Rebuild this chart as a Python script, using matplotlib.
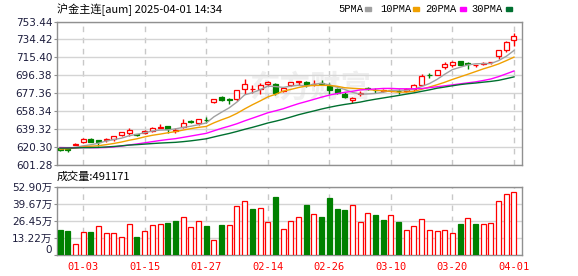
import numpy as np
import pandas as pd
import matplotlib
matplotlib.use('Agg')
import matplotlib.pyplot as plt

# trading days shown on the chart
dates = ['12-30', '12-31', '01-02', '01-03', '01-06', '01-07', '01-08', '01-09', '01-10', '01-13',
	'01-14', '01-15', '01-16', '01-17', '01-20', '01-21', '01-22', '01-23', '01-24', '01-27',
	'02-05', '02-06', '02-07', '02-10', '02-11', '02-12', '02-13', '02-14', '02-17', '02-18',
	'02-19', '02-20', '02-21', '02-24', '02-25', '02-26', '02-27', '02-28', '03-03', '03-04',
	'03-05', '03-06', '03-07', '03-10', '03-11', '03-12', '03-13', '03-14', '03-17', '03-18',
	'03-19', '03-20', '03-21', '03-24', '03-25', '03-26', '03-27', '03-28', '03-31', '04-01']

opens = [619.0, 618.7, 622.5, 625.7, 628.5, 627.5, 627.8, 628.5, 633.5, 634.9,
	634.0, 634.9, 637.7, 640.5, 642.3, 637.7, 641.2, 648.1, 645.8, 649.4,
	667.9, 673.2, 670.8, 670.8, 682.1, 681.8, 681.4, 687.0, 687.0, 679.3,
	685.6, 689.8, 689.1, 686.9, 688.3, 684.9, 681.4, 676.8, 670.1, 676.8,
	682.8, 681.1, 680.0, 680.3, 680.0, 679.8, 681.4, 686.4, 696.9, 696.9,
	705.4, 707.1, 711.3, 709.2, 707.3, 708.5, 710.2, 716.6, 722.9, 733.5]
highs = [620.6, 619.6, 624.5, 629.9, 629.6, 628.0, 630.3, 632.5, 636.7, 640.2,
	634.6, 638.8, 641.5, 644.7, 642.6, 640.9, 649.7, 649.1, 650.2, 652.1,
	671.5, 674.3, 672.6, 680.9, 692.7, 685.6, 688.5, 690.4, 688.5, 683.0,
	689.3, 690.4, 690.2, 690.9, 690.9, 688.5, 683.0, 678.5, 673.2, 679.6,
	684.2, 682.4, 681.7, 682.1, 681.4, 682.4, 686.7, 697.9, 699.0, 702.5,
	710.2, 711.3, 712.0, 710.2, 707.8, 710.9, 710.9, 723.7, 733.2, 741.3]
lows = [616.4, 615.1, 622.2, 624.6, 625.4, 621.5, 626.1, 626.7, 632.0, 631.7,
	632.2, 633.8, 636.7, 640.5, 635.2, 634.9, 640.5, 645.4, 644.1, 646.2,
	666.6, 669.0, 666.3, 669.0, 676.1, 677.9, 676.4, 684.9, 675.4, 678.7,
	685.1, 685.6, 684.5, 684.9, 686.7, 676.1, 676.1, 672.6, 666.6, 674.3,
	681.1, 677.5, 678.5, 678.5, 676.1, 678.7, 679.6, 685.8, 693.7, 696.2,
	703.3, 704.9, 707.1, 703.3, 704.9, 707.1, 708.5, 713.8, 720.8, 727.1]
closes = [617.6, 617.4, 624.0, 628.9, 625.7, 625.9, 629.1, 631.7, 636.3, 638.8,
	632.9, 637.7, 640.9, 641.2, 639.8, 638.4, 645.4, 647.0, 649.7, 648.6,
	671.1, 670.1, 670.3, 680.3, 686.7, 682.2, 685.6, 689.8, 677.9, 682.4,
	688.8, 690.4, 685.6, 687.5, 687.2, 680.6, 677.9, 673.7, 672.2, 677.4,
	682.1, 680.3, 680.5, 681.1, 679.3, 681.4, 685.6, 695.4, 696.3, 701.5,
	708.8, 710.2, 707.8, 708.5, 707.6, 709.9, 710.6, 723.3, 731.4, 738.4]

# closes before the visible window (estimated from where the MA lines start)
prior_closes = [616, 618, 621, 624, 620, 617, 615, 614, 616, 619,
	621, 623, 626, 628, 627, 624, 621, 618, 615, 612,
	613, 616, 617, 619, 620, 618, 619, 621, 620]

# volume in lots, and whether the bar is drawn as an up (red) bar
volumes = [194000, 186000, 83000, 178000, 178000, 222000, 170000, 170000, 139000, 238000,
	139000, 186000, 230000, 240000, 250000, 263000, 292000, 214000, 261000, 225000,
	116000, 232000, 232000, 377000, 416000, 356000, 364000, 256000, 449000, 201000,
	261000, 292000, 387000, 317000, 294000, 441000, 356000, 348000, 385000, 256000,
	325000, 310000, 271000, 307000, 256000, 191000, 222000, 276000, 191000, 183000,
	191000, 168000, 240000, 284000, 240000, 238000, 245000, 416000, 470000, 491171]
vol_up = [0, 0, 1, 1, 0, 1, 1, 1, 1, 1,
	0, 1, 1, 1, 0, 0, 1, 1, 1, 0,
	1, 0, 1, 1, 1, 0, 1, 1, 0, 1,
	1, 1, 0, 1, 0, 0, 0, 0, 1, 1,
	1, 0, 0, 1, 0, 1, 1, 1, 1, 1,
	1, 1, 0, 1, 0, 1, 1, 1, 1, 1]

price_ticks = [601.28, 620.30, 639.32, 658.34, 677.36, 696.38, 715.40, 734.42, 753.44]
vol_ticks = [0, 132200, 264500, 396700, 529000]
vol_tick_labels = ['0', '13.22万', '26.45万', '39.67万', '52.90万']
date_ticks = ['01-03', '01-15', '01-27', '02-14', '02-26', '03-10', '03-20', '04-01']

ma_periods = [5, 10, 20, 30]
ma_colors = ['#a0a0a0', '#f0a000', '#ff00ff', '#007030']

RED = '#ff0000'
GREEN = '#008000'
BORDER = '#909090'
LABEL = '#1c1c3c'


def style_axis(ax, xt):
	for s in ax.spines.values():
		s.set_color(BORDER)
		s.set_linewidth(1.0)
	ax.set_xticks(xt)
	ax.xaxis.grid(True, color='#c8c8c8', linestyle=(0, (4, 4)), linewidth=1.0)
	ax.yaxis.grid(True, color='#d4d4d4', linestyle='-', linewidth=1.0)
	ax.set_axisbelow(True)
	ax.tick_params(axis='y', length=2, width=0.8, color=BORDER, pad=1.5,
		labelsize=7.5, labelcolor=LABEL)
	ax.tick_params(axis='x', length=0)


def main():
	plt.rcParams['font.family'] = ['DejaVu Sans', 'Noto Sans CJK SC']
	fig = plt.figure(figsize=(5.78, 2.76), dpi=100)
	W, H = 578.0, 276.0
	ax = fig.add_axes([57 / W, 1 - 165 / H, 465 / W, 143.5 / H])
	axv = fig.add_axes([57 / W, 1 - 255 / H, 465 / W, 68.3 / H])

	idx = np.arange(len(dates))
	o = np.array(opens)
	c = np.array(closes)
	up = c >= o
	xt = [dates.index(d) for d in date_ticks]

	# candles
	col = np.where(up, RED, GREEN)
	ax.vlines(idx, lows, highs, colors=col, linewidth=1.0, zorder=2)
	ax.bar(idx, np.abs(c - o), bottom=np.minimum(o, c), width=0.65,
		color=np.where(up, 'white', GREEN), edgecolor=col, linewidth=0.9, zorder=3)

	# moving averages (history included so the first bars have full windows)
	s = pd.Series(prior_closes + closes)
	k = len(prior_closes)
	for n, mc in zip(ma_periods, ma_colors):
		ma = s.rolling(n, min_periods=1).mean().values[k:]
		ax.plot(idx, ma, color=mc, linewidth=1.0, zorder=4)

	ax.text(0.545, 0.54, '东方财富', transform=ax.transAxes, fontsize=22,
		fontweight='bold', color='#efefef', ha='center', va='center',
		family=['Noto Sans CJK SC'], zorder=0)

	ax.set_xlim(-0.39, 60.04)
	ax.set_ylim(price_ticks[0], price_ticks[-1])
	style_axis(ax, xt)
	ax.set_yticks(price_ticks)
	ax.set_yticklabels(['%.2f' % p for p in price_ticks])
	ax.set_xticklabels([])

	# volume
	vup = np.array(vol_up) == 1
	vcol = np.where(vup, RED, GREEN)
	axv.bar(idx, volumes, width=0.65, color=np.where(vup, 'white', GREEN),
		edgecolor=vcol, linewidth=0.9, zorder=3)
	axv.set_xlim(-0.39, 60.04)
	axv.set_ylim(0, vol_ticks[-1])
	style_axis(axv, xt)
	axv.set_yticks(vol_ticks)
	axv.set_yticklabels(vol_tick_labels)
	axv.get_yticklabels()[0].set_va('bottom')
	axv.set_xticklabels(date_ticks, color=RED, fontsize=7.5, family=['DejaVu Sans Mono'])
	axv.tick_params(axis='x', pad=5)

	# header texts
	fig.text(57 / W, 1 - 10 / H, '沪金主连[aum] 2025-04-01 14:34', fontsize=8,
		va='center', ha='left', family=['Noto Sans CJK SC', 'DejaVu Sans'])
	legend_pos = [(338, 365), (380, 413), (425.7, 460), (471.7, 506)]
	for n, mc, (tx, sx) in zip(ma_periods, ma_colors, legend_pos):
		fig.text(tx / W, 1 - 9.5 / H, '%dPMA' % n, fontsize=7.5, va='center', ha='left',
			family=['Liberation Mono'])
		fig.patches.append(plt.Rectangle((sx / W, 1 - 10.5 / H), 6 / W, 3 / H,
			transform=fig.transFigure, color=mc, figure=fig))
	fig.text(57 / W, 1 - 177 / H, '成交量:%d' % volumes[-1], fontsize=8,
		va='center', ha='left', family=['Noto Sans CJK SC', 'DejaVu Sans'])

	fig.savefig('out.png', dpi=100, facecolor='white')


if __name__ == '__main__':
	main()
